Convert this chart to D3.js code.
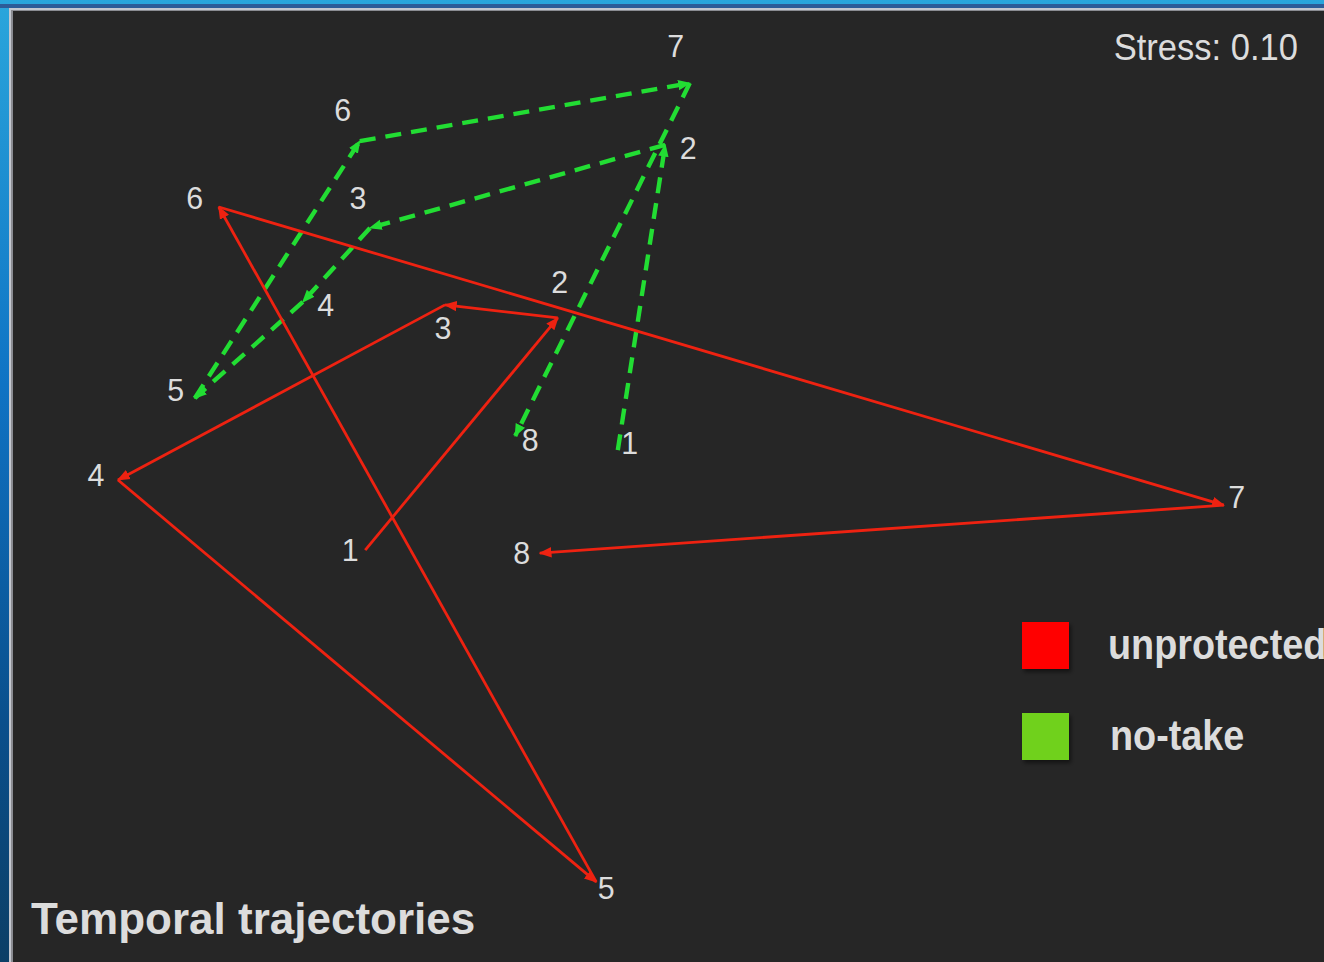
<!DOCTYPE html>
<html>
<head>
<meta charset="utf-8">
<script src="https://cdn.jsdelivr.net/npm/d3@7"></script>
<style>
  html, body { margin: 0; padding: 0; background: #262626; overflow: hidden; }
  svg { display: block; }
</style>
</head>
<body>
<div id="chart"></div>
<script>
// Temporal trajectories (nMDS), two groups of 8 time steps

const steps = ['1', '2', '3', '4', '5', '6', '7', '8'];
const groups = ['unprotected', 'no-take'];

// MDS coordinates
const unprotectedX = [-0.558, -0.237, -0.425, -0.970, -0.173, -0.802, 0.873, -0.267];
const unprotectedY = [-0.167, 0.386, 0.417, 0.000, -0.957, 0.650, -0.060, -0.174];
const noTakeX = [-0.137, -0.058, -0.550, -0.662, -0.842, -0.567, -0.017, -0.308];
const noTakeY = [0.071, 0.798, 0.600, 0.424, 0.195, 0.807, 0.945, 0.105];

const stressText = 'Stress: 0.10';
const titleText = 'Temporal trajectories';

// label placement around each point (layout only)
const unprotectedLabelOffset = [[-15, 0], [2, -36], [-2, 23], [-22, -5], [10, 6], [-24, -9], [13, -8], [-18, 0]];
const noTakeLabelOffset = [[12, -7], [23, 3], [-12, -30], [23, 3], [-19, -8], [-17, -31], [-14, -37], [15, 4]];

const width = 1324, height = 962;
const colors = { 'unprotected': '#ee2211', 'no-take': '#22dd33' };
const legendColors = { 'unprotected': '#ff0000', 'no-take': '#6fd11f' };
const textColor = '#dcdcdc';
const squeeze = 0.92; // slide text is a bit narrower than Arial

const svg = d3.select('#chart')
    .append('svg')
    .attr('width', width)
    .attr('height', height);

const defs = svg.append('defs');

const bg = defs.append('linearGradient')
    .attr('id', 'sea')
    .attr('x1', 0).attr('y1', 0).attr('x2', 0).attr('y2', 1);
bg.append('stop').attr('offset', '0%').attr('stop-color', '#2aa6dc');
bg.append('stop').attr('offset', '40%').attr('stop-color', '#0f73c4');
bg.append('stop').attr('offset', '75%').attr('stop-color', '#0a4f8c');
bg.append('stop').attr('offset', '100%').attr('stop-color', '#0c3f66');

const shadow = defs.append('filter')
    .attr('id', 'shadow')
    .attr('x', '-30%').attr('y', '-30%').attr('width', '160%').attr('height', '160%');
shadow.append('feDropShadow')
    .attr('dx', 2).attr('dy', 3).attr('stdDeviation', 2)
    .attr('flood-color', '#000').attr('flood-opacity', 0.5);

groups.forEach(g => {
    defs.append('marker')
        .attr('id', 'arrow-' + g)
        .attr('viewBox', '0 0 10 10')
        .attr('refX', 9).attr('refY', 5)
        .attr('markerUnits', 'userSpaceOnUse')
        .attr('markerWidth', 13)
        .attr('markerHeight', 13)
        .attr('orient', 'auto')
        .append('path')
        .attr('d', 'M0,1 L10,5 L0,9 Z')
        .attr('fill', colors[g]);
});

// slide background + frame
svg.append('rect').attr('width', width).attr('height', height).attr('fill', 'url(#sea)');
svg.append('rect').attr('x', 0).attr('y', 4).attr('width', width).attr('height', 4).attr('fill', '#2d5c98');
svg.append('rect').attr('x', 9).attr('y', 8).attr('width', width).attr('height', height).attr('fill', '#c4c8d0');
svg.append('rect').attr('x', 11).attr('y', 10).attr('width', width).attr('height', height).attr('fill', '#8a8c92');
svg.append('rect').attr('x', 13).attr('y', 11).attr('width', width).attr('height', height).attr('fill', '#262626');

const x = d3.scaleLinear().domain([-1, 1]).range([100, 1300]);
const y = d3.scaleLinear().domain([-1, 1]).range([900, 60]);

const series = [
    { key: 'unprotected', xs: unprotectedX, ys: unprotectedY, offs: unprotectedLabelOffset },
    { key: 'no-take', xs: noTakeX, ys: noTakeY, offs: noTakeLabelOffset }
];

function addText(sel, px, py, txt, size, weight, anchor, sx) {
    return sel.append('text')
        .attr('transform', `translate(${px},${py}) scale(${sx},1)`)
        .attr('font-family', '"Liberation Sans", Arial, sans-serif')
        .attr('font-size', size)
        .attr('font-weight', weight)
        .attr('text-anchor', anchor)
        .attr('fill', textColor)
        .text(txt);
}

// red sits on top of green in the picture
['no-take', 'unprotected'].forEach(k => {
    const s = series.find(d => d.key === k);
    const pts = steps.map((t, i) => ({ t, px: x(s.xs[i]), py: y(s.ys[i]) }));
    const segs = d3.pairs(pts);
    const lines = svg.append('g').attr('class', 'traj-' + k);

    lines.selectAll('line')
        .data(segs)
        .join('line')
        .attr('x1', d => d[0].px).attr('y1', d => d[0].py)
        .attr('x2', d => d[1].px).attr('y2', d => d[1].py)
        .attr('stroke', colors[k])
        .attr('stroke-width', k === 'no-take' ? 4.4 : 2.8)
        .attr('stroke-dasharray', k === 'no-take' ? '16,10' : null)
        .attr('marker-end', `url(#arrow-${k})`);
});

series.forEach(s => {
    const g = svg.append('g').attr('class', 'labels-' + s.key);
    steps.forEach((t, i) => {
        addText(g, x(s.xs[i]) + s.offs[i][0], y(s.ys[i]) + s.offs[i][1], t, 32, 'normal', 'middle', 0.95)
            .attr('dominant-baseline', 'central');
    });
});

// stress
addText(svg, 1298, 60, stressText, 36, 'normal', 'end', 0.96);

// title
addText(svg, 31, 934, titleText, 44, 'bold', 'start', 1.0);

// legend
const legendY = [622, 713];
groups.forEach((g, i) => {
    svg.append('rect')
        .attr('x', 1022).attr('y', legendY[i])
        .attr('width', 47).attr('height', 47)
        .attr('fill', legendColors[g])
        .attr('filter', 'url(#shadow)');
    addText(svg, i === 0 ? 1108 : 1110, legendY[i] + 37, g, 42, 'bold', 'start', squeeze - 0.02);
});
</script>
</body>
</html>
